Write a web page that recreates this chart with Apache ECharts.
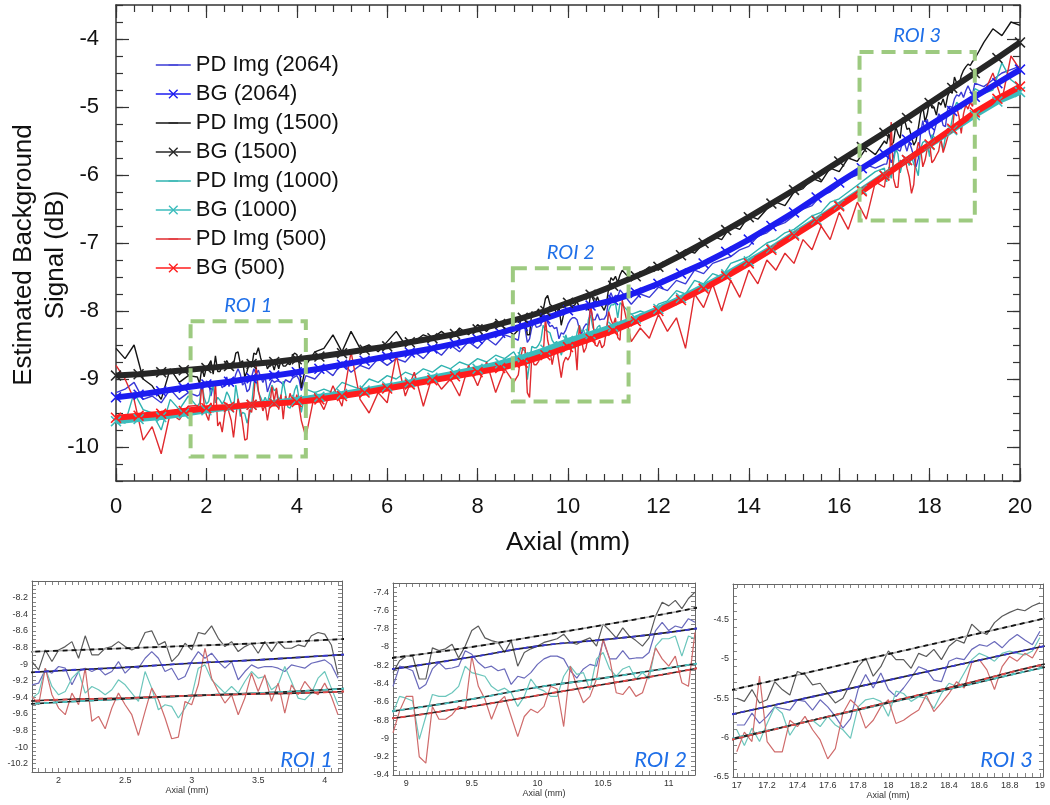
<!DOCTYPE html>
<html><head><meta charset="utf-8">
<script src="https://cdn.jsdelivr.net/npm/echarts@6/dist/echarts.min.js"></script>
<style>html,body{margin:0;padding:0;background:#fff}#c{width:1050px;height:805px}</style>
</head><body><div id="c"></div>
<script>
// ---------------- DATA ----------------
const seriesNames = ['PD Img (2064)','BG (2064)','PD Img (1500)','BG (1500)','PD Img (1000)','BG (1000)','PD Img (500)','BG (500)'];
const xMainTicks = [0,2,4,6,8,10,12,14,16,18,20];
const yMainTicks = [-10,-9,-8,-7,-6,-5,-4];
const roiNames = ['ROI 1','ROI 2','ROI 3'];
const roiBoxX = [[1.65,4.2],[8.78,11.34],[16.45,19.0]];
const roiBoxY = [[-10.14,-8.15],[-9.33,-7.37],[-6.67,-4.19]];

// PD Img, coarse samples every 0.2 mm from 0 to 20 mm
const pd2064Coarse = [-9.20,-9.15,-9.05,-9.30,-9.25,-9.35,-9.15,-9.30,-9.20,-9.25,
 -9.10,-9.15,-9.05,-9.20,-9.00,-9.15,-8.90,-9.05,-9.15,-8.95,
 -9.05,-8.95,-9.00,-8.85,-8.95,-8.75,-8.90,-8.80,-8.85,-8.70,
 -8.80,-8.70,-8.75,-8.60,-8.70,-8.55,-8.65,-8.50,-8.60,-8.45,
 -8.55,-8.40,-8.50,-8.35,-8.40,-8.45,-8.30,-8.20,-8.30,-8.40,
 -8.20,-8.15,-8.25,-8.00,-8.10,-7.95,-7.80,-7.90,-7.75,-7.80,
 -7.65,-7.70,-7.55,-7.60,-7.40,-7.45,-7.30,-7.25,-7.20,-7.10,
 -7.05,-6.90,-6.85,-6.75,-6.70,-6.60,-6.50,-6.45,-6.30,-6.25,
 -6.15,-6.05,-6.00,-5.85,-5.90,-5.80,-5.65,-5.75,-5.45,-5.35,
 -5.45,-5.20,-5.10,-4.95,-4.85,-4.75,-4.70,-4.60,-4.50,-4.45,
 -4.40];
const pd1500Coarse = [-8.55,-8.70,-8.50,-9.00,-9.10,-9.30,-8.85,-9.05,-8.95,-9.00,
 -8.85,-8.70,-8.90,-8.78,-8.65,-8.80,-8.62,-8.75,-8.85,-8.72,
 -8.65,-8.80,-8.60,-8.55,-8.35,-8.60,-8.30,-8.55,-8.50,-8.60,
 -8.45,-8.30,-8.50,-8.45,-8.35,-8.40,-8.30,-8.40,-8.25,-8.35,
 -8.20,-8.30,-8.15,-8.25,-8.35,-8.05,-8.30,-8.00,-7.85,-8.05,
 -7.95,-7.85,-7.95,-7.75,-7.80,-7.50,-7.45,-7.55,-7.45,-7.35,
 -7.40,-7.25,-7.20,-7.10,-7.15,-7.00,-6.90,-6.95,-6.75,-6.80,
 -6.60,-6.65,-6.50,-6.40,-6.45,-6.25,-6.20,-6.05,-6.10,-5.90,
 -5.95,-5.75,-5.80,-5.60,-5.70,-5.50,-5.25,-5.35,-5.10,-5.15,
 -5.05,-4.95,-4.65,-4.75,-4.50,-4.35,-4.05,-3.85,-3.95,-3.75,
 -3.80];
const pd1000Coarse = [-9.60,-9.65,-9.20,-9.45,-9.50,-9.75,-9.30,-9.45,-9.25,-9.35,
 -9.10,-9.40,-9.30,-9.45,-9.25,-9.60,-9.05,-9.30,-9.35,-9.20,
 -9.30,-9.15,-9.20,-9.15,-9.20,-9.05,-9.10,-9.15,-9.00,-9.05,
 -8.95,-9.00,-8.90,-8.95,-8.85,-8.90,-8.80,-8.85,-8.75,-8.80,
 -8.70,-8.75,-8.65,-8.70,-8.60,-8.90,-8.55,-8.60,-8.50,-8.55,
 -8.55,-8.40,-8.45,-8.30,-8.30,-8.15,-8.10,-8.05,-8.00,-8.05,
 -7.90,-7.85,-7.70,-7.75,-7.55,-7.60,-7.45,-7.50,-7.30,-7.25,
 -7.20,-7.10,-7.00,-6.95,-6.85,-6.80,-6.70,-6.60,-6.55,-6.40,
 -6.35,-6.25,-6.15,-6.05,-5.95,-6.05,-5.65,-5.85,-5.60,-5.45,
 -5.50,-5.30,-5.20,-5.00,-4.95,-4.85,-4.80,-4.75,-4.35,-4.60,
 -4.70];
const pd500Coarse = [-8.80,-9.00,-9.30,-9.90,-9.70,-10.10,-9.50,-9.60,-9.40,-9.55,
 -9.60,-9.10,-9.70,-9.30,-9.85,-9.50,-9.20,-9.55,-9.50,-9.60,
 -9.40,-9.85,-9.20,-9.45,-9.10,-9.40,-8.60,-9.30,-9.50,-9.20,
 -9.35,-8.65,-9.25,-8.90,-9.40,-8.95,-9.15,-9.00,-9.25,-8.80,
 -9.10,-8.75,-9.20,-8.85,-9.05,-9.25,-8.70,-8.60,-8.90,-8.75,
 -8.90,-8.50,-8.65,-8.30,-8.50,-8.60,-8.05,-8.45,-8.25,-8.40,
 -8.05,-8.30,-8.10,-8.55,-7.75,-7.95,-7.60,-8.00,-7.55,-7.80,
 -7.40,-7.60,-7.25,-7.40,-7.15,-7.30,-6.95,-7.10,-6.75,-6.95,
 -6.55,-6.80,-6.40,-6.65,-6.10,-6.20,-5.20,-6.30,-5.85,-5.60,
 -5.80,-5.55,-5.45,-5.25,-5.15,-5.00,-4.80,-4.50,-4.90,-4.25,
 -4.45];

// BG estimates every 0.5 mm from 0 to 20 mm
const bg2064 = [-9.27,-9.23,-9.18,-9.13,-9.08,-9.04,-8.99,-8.95,-8.90,-8.85,
 -8.79,-8.73,-8.67,-8.61,-8.55,-8.48,-8.41,-8.32,-8.22,-8.11,
 -7.99,-7.92,-7.84,-7.73,-7.60,-7.45,-7.30,-7.13,-6.95,-6.75,
 -6.55,-6.33,-6.11,-5.90,-5.69,-5.48,-5.27,-5.06,-4.85,-4.65,
 -4.45];
const bg1500 = [-8.95,-8.93,-8.90,-8.87,-8.84,-8.81,-8.78,-8.75,-8.71,-8.67,
 -8.62,-8.57,-8.52,-8.46,-8.40,-8.34,-8.27,-8.19,-8.10,-8.00,
 -7.88,-7.76,-7.63,-7.49,-7.35,-7.18,-7.00,-6.81,-6.62,-6.42,
 -6.22,-6.01,-5.80,-5.59,-5.38,-5.16,-4.94,-4.72,-4.50,-4.28,
 -4.05];
const bg1000 = [-9.62,-9.59,-9.56,-9.51,-9.46,-9.42,-9.38,-9.35,-9.31,-9.26,
 -9.22,-9.17,-9.11,-9.05,-8.98,-8.92,-8.85,-8.77,-8.68,-8.57,
 -8.44,-8.34,-8.23,-8.11,-7.97,-7.81,-7.64,-7.46,-7.27,-7.08,
 -6.87,-6.66,-6.44,-6.22,-6.00,-5.78,-5.56,-5.34,-5.12,-4.92,
 -4.78];
const bg500 = [-9.57,-9.54,-9.51,-9.47,-9.43,-9.41,-9.38,-9.36,-9.34,-9.30,
 -9.25,-9.20,-9.14,-9.08,-9.02,-8.96,-8.90,-8.84,-8.76,-8.65,
 -8.53,-8.41,-8.29,-8.15,-8.00,-7.84,-7.67,-7.49,-7.30,-7.10,
 -6.89,-6.68,-6.46,-6.24,-6.01,-5.78,-5.55,-5.32,-5.08,-4.88,
 -4.70];

// ROI detail, samples every 0.05 mm
const roi1Start = 1.80, roi2Start = 8.90, roi3Start = 17.00;
const roi1Pd1500 = [-8.97,-9.07,-8.83,-8.97,-8.83,-8.79,-8.73,-8.93,-8.66,-8.89,
 -8.89,-8.81,-8.79,-8.73,-8.79,-8.83,-8.79,-8.62,-8.60,-8.77,
 -8.73,-8.97,-8.89,-8.75,-8.83,-8.62,-8.64,-8.54,-8.69,-8.79,
 -8.73,-8.85,-8.79,-8.75,-8.87,-8.73,-8.85,-8.73,-8.81,-8.81,
 -8.77,-8.79,-8.66,-8.62,-8.64,-8.77,-9.13];
const roi1Pd2064 = [-9.25,-9.23,-9.07,-9.11,-9.03,-9.05,-9.25,-9.09,-9.05,-9.09,
 -9.05,-9.13,-9.09,-8.97,-9.11,-9.03,-9.05,-8.93,-8.85,-8.93,
 -9.09,-9.05,-9.19,-9.15,-8.97,-8.85,-8.93,-8.87,-8.97,-9.05,
 -8.97,-9.19,-9.09,-9.01,-9.05,-9.03,-9.03,-9.05,-9.09,-9.01,
 -9.03,-9.05,-8.99,-8.97,-8.95,-9.01,-9.17];
const roi1Pd1000 = [-9.41,-9.35,-9.05,-9.27,-9.37,-9.33,-9.17,-9.09,-9.35,-9.27,
 -9.31,-9.37,-9.31,-9.19,-9.25,-9.35,-9.45,-9.09,-9.29,-9.55,
 -9.49,-9.51,-9.65,-9.53,-9.39,-9.05,-9.01,-9.19,-9.27,-9.35,
 -9.27,-9.35,-9.21,-9.09,-9.17,-9.15,-9.31,-9.25,-9.03,-9.21,
 -9.41,-9.43,-9.35,-9.17,-9.09,-9.29,-9.49];
const roi1Pd500 = [-9.39,-9.49,-9.05,-9.37,-9.53,-9.61,-9.35,-9.49,-9.05,-9.69,
 -9.63,-9.78,-9.53,-9.35,-9.49,-9.61,-9.86,-9.57,-9.29,-9.43,
 -9.65,-9.90,-9.88,-9.45,-9.49,-9.25,-8.81,-9.17,-9.33,-9.47,
 -9.37,-9.61,-9.41,-9.11,-9.33,-9.13,-9.45,-9.23,-9.59,-9.25,
 -9.37,-9.21,-9.31,-9.37,-9.23,-9.39,-9.61];
const roi2Pd1500 = [-8.28,-8.15,-8.10,-8.10,-8.35,-8.35,-8.01,-8.04,-8.02,-7.97,
 -8.12,-7.99,-7.82,-7.77,-7.90,-7.93,-7.95,-8.06,-7.93,-8.21,
 -8.06,-8.02,-7.99,-7.95,-7.93,-7.91,-7.86,-7.95,-7.97,-7.93,
 -7.90,-7.99,-7.75,-7.82,-7.90,-7.79,-7.88,-7.93,-7.99,-7.90,
 -7.66,-7.51,-7.55,-7.49,-7.58,-7.47,-7.40];
const roi2Pd2064 = [-8.43,-8.21,-8.23,-8.26,-8.46,-8.41,-8.24,-8.17,-8.24,-8.23,
 -8.21,-8.04,-8.08,-8.17,-8.23,-8.21,-8.26,-8.24,-8.41,-8.32,
 -8.34,-8.28,-8.19,-8.13,-8.10,-8.10,-8.13,-8.26,-8.34,-8.24,
 -8.19,-8.21,-7.93,-8.13,-8.13,-8.04,-8.13,-8.12,-8.12,-8.06,
 -7.82,-7.73,-7.82,-7.77,-7.79,-7.69,-7.73];
const roi2Pd1000 = [-8.72,-8.54,-8.56,-8.59,-9.01,-8.76,-8.52,-8.54,-8.54,-8.50,
 -8.43,-8.21,-8.28,-8.30,-8.32,-8.43,-8.48,-8.45,-8.50,-8.65,
 -8.54,-8.35,-8.45,-8.48,-8.54,-8.54,-8.32,-8.21,-8.30,-8.28,
 -8.47,-8.13,-8.06,-8.24,-8.32,-8.24,-8.21,-8.35,-8.28,-8.35,
 -7.99,-7.91,-7.91,-7.88,-8.10,-7.88,-7.91];
const roi2Pd500 = [-8.94,-8.70,-8.54,-8.54,-9.20,-9.27,-8.65,-8.79,-8.79,-8.74,
 -8.65,-8.68,-8.10,-8.43,-8.57,-8.79,-8.61,-8.54,-8.76,-8.98,
 -8.76,-8.68,-8.72,-8.65,-8.43,-8.46,-8.87,-8.21,-8.43,-8.61,
 -8.54,-8.35,-7.91,-8.13,-8.50,-8.52,-8.43,-8.54,-8.50,-8.28,
 -8.01,-8.13,-8.21,-8.10,-8.39,-8.43,-7.84];
const roi3Pd1500 = [-5.50,-5.54,-5.39,-5.56,-5.52,-5.29,-5.39,-5.46,-5.16,-5.20,
 -5.33,-5.31,-5.44,-5.56,-5.50,-5.31,-5.10,-4.99,-5.22,-5.10,
 -4.90,-5.01,-5.01,-5.12,-4.93,-4.97,-4.88,-5.01,-4.84,-4.76,
 -4.80,-4.56,-4.65,-4.69,-4.54,-4.46,-4.41,-4.37,-4.39,-4.33,
 -4.29];
const roi3Pd2064 = [-5.84,-5.84,-5.69,-5.82,-5.73,-5.61,-5.63,-5.65,-5.52,-5.54,
 -5.65,-5.52,-5.61,-5.73,-5.88,-5.76,-5.39,-5.20,-5.37,-5.18,
 -5.39,-5.48,-5.37,-5.24,-5.10,-5.14,-5.27,-5.29,-5.03,-4.99,
 -5.01,-4.88,-4.82,-4.84,-4.78,-4.86,-4.76,-4.69,-4.76,-4.82,
 -4.65];
const roi3Pd1000 = [-5.90,-6.10,-5.88,-6.05,-5.82,-5.61,-5.69,-5.97,-5.82,-5.80,
 -5.78,-5.86,-5.73,-5.84,-5.90,-6.01,-5.61,-5.52,-5.50,-5.54,
 -5.73,-5.41,-5.44,-5.54,-5.48,-5.50,-5.63,-5.44,-5.31,-5.35,
 -5.18,-5.01,-4.93,-4.97,-5.03,-4.93,-4.90,-4.93,-4.95,-4.90,
 -4.73];
const roi3Pd500 = [-6.18,-5.93,-6.05,-5.22,-6.05,-6.18,-6.18,-5.78,-5.86,-5.73,
 -5.90,-6.03,-6.27,-6.14,-5.69,-5.52,-5.61,-5.88,-5.78,-5.61,
 -5.52,-5.82,-5.78,-5.71,-5.65,-5.46,-5.67,-5.56,-5.44,-5.29,
 -5.37,-5.05,-5.01,-5.14,-5.39,-5.10,-4.97,-5.03,-4.93,-4.99,
 -4.82];

// panel axis ranges and tick labels
const panelXRange = [[1.8,4.13],[8.9,11.2],[16.975,19.02]];
const panelYRange = [[-10.3,-8.0],[-9.4,-7.3],[-6.5,-4.05]];
const panelXLabels = [[2,2.5,3,3.5,4],[9,9.5,10,10.5,11],[17,17.2,17.4,17.6,17.8,18,18.2,18.4,18.6,18.8,19]];
const panelYLabels = [[-10.2,-10,-9.8,-9.6,-9.4,-9.2,-9,-8.8,-8.6,-8.4,-8.2],
  [-9.4,-9.2,-9,-8.8,-8.6,-8.4,-8.2,-8,-7.8,-7.6,-7.4],
  [-6.5,-6,-5.5,-5,-4.5]];

// ---------------- BUILD ----------------
function seq(a,b,s){const o=[];for(let v=a;v<=b+1e-9;v+=s)o.push(Math.round(v*1000)/1000);return o;}
const coarseX = seq(0,20,0.2);
const bgX = seq(0,20,0.5);
const roiStarts=[roi1Start,roi2Start,roi3Start];
function fineXY(start, vals){return vals.map((v,k)=>[Math.round((start+k*0.05)*1000)/1000, v]);}
function merged(coarse, fines){
  const ranges = fines.map(f=>[f[0][0], f[f.length-1][0]]);
  const pts = [];
  coarse.forEach((v,i)=>{const x=coarseX[i]; if(!ranges.some(r=>x>=r[0]-1e-6&&x<=r[1]+1e-6)) pts.push([x,v]);});
  fines.forEach(f=>f.forEach(p=>pts.push(p)));
  pts.sort((a,b)=>a[0]-b[0]);
  return pts;
}
const fine = {
  '2064':[fineXY(roi1Start,roi1Pd2064),fineXY(roi2Start,roi2Pd2064),fineXY(roi3Start,roi3Pd2064)],
  '1500':[fineXY(roi1Start,roi1Pd1500),fineXY(roi2Start,roi2Pd1500),fineXY(roi3Start,roi3Pd1500)],
  '1000':[fineXY(roi1Start,roi1Pd1000),fineXY(roi2Start,roi2Pd1000),fineXY(roi3Start,roi3Pd1000)],
  '500':[fineXY(roi1Start,roi1Pd500),fineXY(roi2Start,roi2Pd500),fineXY(roi3Start,roi3Pd500)]
};
const bgXY = arr => arr.map((v,i)=>[bgX[i],v]);

const FONT = '"Liberation Sans", Arial, sans-serif';
const X_SYMBOL = 'path://M0,1L1,0L5,4L9,0L10,1L6,5L10,9L9,10L5,6L1,10L0,9L4,5Z';
// thin horizontal bar in a square box: keeps the legend icon a plain line
const BAR_SYMBOL = 'path://M0,0L0.05,0L0,0.05Z M0,4.4L10,4.4L10,5.6L0,5.6Z M10,10L9.95,10L10,9.95Z';
const mainCol = {pd2064:'#3a3ad6', bg2064:'#1c1cf0', pd1500:'#151515', bg1500:'#262626',
  pd1000:'#2fb3b0', bg1000:'#3cbcbc', pd500:'#e02a2e', bg500:'#ff1c1c'};
const subCol = {k:'#5a5a5a', b:'#6a6abb', c:'#6cc6bc', r:'#cf6b6b'};

const series = [];
function pdMain(name,col,data){series.push({type:'line',name,xAxisIndex:0,yAxisIndex:0,data,symbol:BAR_SYMBOL,showSymbol:false,
  lineStyle:{color:col,width:1.4},itemStyle:{color:col},z:2,animation:false});}
function bgMain(name,col,data){series.push({type:'line',name,xAxisIndex:0,yAxisIndex:0,data,symbol:X_SYMBOL,symbolSize:11,
  showAllSymbol:true,lineStyle:{color:col,width:6},itemStyle:{color:col},z:3,animation:false});}
pdMain(seriesNames[0],mainCol.pd2064,merged(pd2064Coarse,fine['2064']));
pdMain(seriesNames[2],mainCol.pd1500,merged(pd1500Coarse,fine['1500']));
pdMain(seriesNames[4],mainCol.pd1000,merged(pd1000Coarse,fine['1000']));
pdMain(seriesNames[6],mainCol.pd500,merged(pd500Coarse,fine['500']));
bgMain(seriesNames[1],mainCol.bg2064,bgXY(bg2064));
bgMain(seriesNames[3],mainCol.bg1500,bgXY(bg1500));
bgMain(seriesNames[5],mainCol.bg1000,bgXY(bg1000));
bgMain(seriesNames[7],mainCol.bg500,bgXY(bg500));
// ROI boxes
series.push({type:'line',name:'ROI boxes',xAxisIndex:0,yAxisIndex:0,data:[[0,null]],symbol:'none',z:6,animation:false,
  markArea:{silent:true,z:6,itemStyle:{color:'rgba(0,0,0,0)',borderColor:'#9dca80',borderWidth:4,borderType:[14,8]},
    label:{show:true,position:'top',distance:4,color:'#1f6fe8',fontStyle:'italic',fontSize:20,fontFamily:'Lato, "Open Sans", sans-serif'},
    data:roiNames.map((n,i)=>[{name:n,xAxis:roiBoxX[i][0],yAxis:roiBoxY[i][1]},{xAxis:roiBoxX[i][1],yAxis:roiBoxY[i][0]}])}});

// Sub panels
const subSets = [
  [roi1Pd1500,roi1Pd2064,roi1Pd1000,roi1Pd500],
  [roi2Pd1500,roi2Pd2064,roi2Pd1000,roi2Pd500],
  [roi3Pd1500,roi3Pd2064,roi3Pd1000,roi3Pd500]];
const subColors=[subCol.k,subCol.b,subCol.c,subCol.r];
const bgSets=[bg1500,bg2064,bg1000,bg500];
const bgDash=['#111','#3a3ad0','#4cc2c0','#e04848'];
const bgUnder=['#aaaaaa','#222','#222','#222'];
for(let p=0;p<3;p++){
  const xi=4+2*p;
  subSets[p].forEach((arr,j)=>{
    series.push({type:'line',name:'pd'+p+j,xAxisIndex:xi,yAxisIndex:xi,data:fineXY(roiStarts[p],arr),symbol:'none',
      lineStyle:{color:subColors[j],width:1.2},z:2,animation:false});
  });
  bgSets.forEach((arr,j)=>{
    series.push({type:'line',name:'bgu'+p+j,xAxisIndex:xi,yAxisIndex:xi,data:bgXY(arr),symbol:'none',smooth:true,
      lineStyle:{color:bgUnder[j],width:1.6},z:3,animation:false});
    series.push({type:'line',name:'bgd'+p+j,xAxisIndex:xi,yAxisIndex:xi,data:bgXY(arr),symbol:'none',smooth:true,
      lineStyle:{color:bgDash[j],width:1.8,type:[5,4]},z:4,animation:false});
  });
}

// ---------------- AXES ----------------
const axCol='#333';
function xAx(grid,pos,min,max,ticks,len,labels,extra){
  return Object.assign({type:'value',gridIndex:grid,position:pos,min,max,
    axisLine:{show:true,onZero:false,lineStyle:{color:axCol,width:1.5}},
    axisTick:{show:true,inside:true,length:len,customValues:ticks,lineStyle:{color:axCol,width:1.2}},
    axisLabel:labels?Object.assign({show:true,customValues:labels.values},labels.style):{show:false},
    splitLine:{show:false}},extra||{});
}
const xAxes=[], yAxes=[];
const mainLabelStyle={fontSize:22,color:'#111',fontFamily:FONT};
xAxes.push(xAx(0,'bottom',0,20,seq(0,20,0.4),7,{values:xMainTicks,style:Object.assign({margin:15},mainLabelStyle)},
  {name:'Axial (mm)',nameLocation:'middle',nameGap:49,nameTextStyle:{fontSize:26,color:'#111',fontFamily:FONT}}));
xAxes.push(xAx(0,'bottom',0,20,xMainTicks,13,null,{axisLine:{show:false,onZero:false}}));
xAxes.push(xAx(0,'top',0,20,seq(0,20,0.4),7,null));
xAxes.push(xAx(0,'top',0,20,xMainTicks,13,null,{axisLine:{show:false,onZero:false}}));
yAxes.push(xAx(0,'left',-10.5,-3.5,seq(-10.5,-3.5,0.25),7,{values:yMainTicks,style:Object.assign({margin:17},mainLabelStyle)}));
yAxes.push(xAx(0,'left',-10.5,-3.5,yMainTicks,13,null,{axisLine:{show:false,onZero:false}}));
yAxes.push(xAx(0,'right',-10.5,-3.5,seq(-10.5,-3.5,0.25),7,null));
yAxes.push(xAx(0,'right',-10.5,-3.5,yMainTicks,13,null,{axisLine:{show:false,onZero:false}}));

const subLabelStyle={fontSize:9,color:'#333',fontFamily:FONT,margin:4};
const subLine={show:true,onZero:false,lineStyle:{color:'#666',width:1}};
const subTick=(v)=>({show:true,inside:true,length:4,customValues:v,lineStyle:{color:'#666',width:0.8}});
for(let p=0;p<3;p++){
  const g=p+1, xr=panelXRange[p], yr=panelYRange[p];
  const xt=seq(Math.ceil(xr[0]*20)/20,xr[1],0.05);
  const yt=seq(yr[0],yr[1],p===2?0.1:0.05);
  xAxes.push({type:'value',gridIndex:g,position:'bottom',min:xr[0],max:xr[1],axisLine:subLine,axisTick:subTick(xt),
    axisLabel:Object.assign({show:true,customValues:panelXLabels[p]},subLabelStyle),splitLine:{show:false},
    name:'Axial (mm)',nameLocation:'middle',nameGap:14,nameTextStyle:{fontSize:9,color:'#333',fontFamily:FONT}});
  xAxes.push({type:'value',gridIndex:g,position:'top',min:xr[0],max:xr[1],axisLine:subLine,axisTick:subTick(xt),axisLabel:{show:false},splitLine:{show:false}});
  yAxes.push({type:'value',gridIndex:g,position:'left',min:yr[0],max:yr[1],axisLine:subLine,axisTick:subTick(yt),
    axisLabel:Object.assign({show:true,customValues:panelYLabels[p]},subLabelStyle),splitLine:{show:false}});
  yAxes.push({type:'value',gridIndex:g,position:'right',min:yr[0],max:yr[1],axisLine:subLine,axisTick:subTick(yt),axisLabel:{show:false},splitLine:{show:false}});
}

const chart = echarts.init(document.getElementById('c'),null,{renderer:'canvas'});
chart.setOption({
  animation:false,
  backgroundColor:'#fff',
  grid:[
    {left:116,top:5,width:904,height:476},
    {left:32,top:581,width:310,height:191},
    {left:393,top:583,width:302,height:192},
    {left:733,top:584,width:310,height:193}],
  xAxis:xAxes, yAxis:yAxes,
  legend:{data:seriesNames,orient:'vertical',left:155,top:54,padding:0,itemWidth:35,itemHeight:12,itemGap:7,
    textStyle:{fontSize:22,color:'#111',fontFamily:FONT,lineHeight:22},lineStyle:{width:1.6},selectedMode:false},
  graphic:[
    {type:'text',x:40,y:255,rotation:Math.PI/2,style:{text:'Estimated Background\nSignal (dB)',font:'26px '+FONT,fill:'#111',align:'center',verticalAlign:'middle',lineHeight:32}},
    {type:'text',x:333,y:760,style:{text:'ROI 1',font:'italic 22px Lato, "Open Sans", sans-serif',fill:'#1f6fe8',align:'right',verticalAlign:'middle'}},
    {type:'text',x:687,y:760,style:{text:'ROI 2',font:'italic 22px Lato, "Open Sans", sans-serif',fill:'#1f6fe8',align:'right',verticalAlign:'middle'}},
    {type:'text',x:1033,y:760,style:{text:'ROI 3',font:'italic 22px Lato, "Open Sans", sans-serif',fill:'#1f6fe8',align:'right',verticalAlign:'middle'}}
  ],
  series
});
</script></body></html>
